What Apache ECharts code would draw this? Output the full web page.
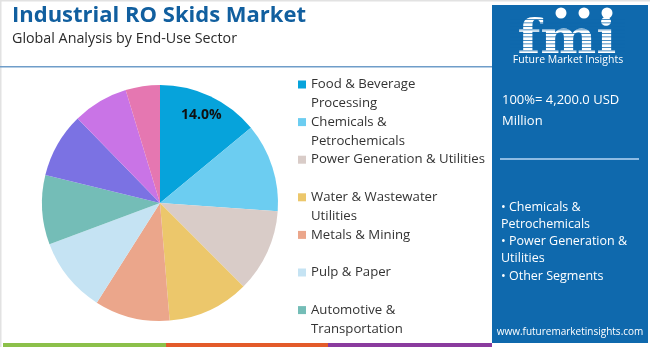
<!DOCTYPE html>
<html>
<head>
<meta charset="utf-8">
<style>
  html, body { margin: 0; padding: 0; background: #ffffff; }
  #chart { width: 650px; height: 347px; }
</style>
<script src="https://cdn.jsdelivr.net/npm/echarts@6/dist/echarts.min.js"></script>
</head>
<body>
<div id="chart"></div>
<script>
// End-use sectors and their share of the market (%)
const sectors = [
  'Food & Beverage Processing',
  'Chemicals & Petrochemicals',
  'Power Generation & Utilities',
  'Water & Wastewater Utilities',
  'Metals & Mining',
  'Pulp & Paper',
  'Automotive & Transportation',
  'Pharmaceuticals',
  'Electronics & Semiconductors',
  'Others'
];
const shares = [14.0, 12.1, 11.4, 11.2, 10.3, 10.3, 9.5, 8.9, 7.6, 4.7];
const sliceColors = ['#06a3db', '#6ccdf1', '#d9ccc8', '#ecc76b', '#eba68b',
                     '#c5e3f3', '#74bdb7', '#7b72e3', '#c974e6', '#e577b1'];

// Legend labels as they are wrapped on screen
const legendLabels = {
  'Food & Beverage Processing': 'Food & Beverage\nProcessing',
  'Chemicals & Petrochemicals': 'Chemicals &\nPetrochemicals',
  'Power Generation & Utilities': 'Power Generation & Utilities\n ',
  'Water & Wastewater Utilities': 'Water & Wastewater\nUtilities',
  'Metals & Mining': 'Metals & Mining\n ',
  'Pulp & Paper': 'Pulp & Paper\n ',
  'Automotive & Transportation': 'Automotive &\nTransportation'
};
const legendCount = 7;

// Side panel texts
const totalText = ['100%= 4,200.0 USD', 'Million'];
const bulletText = ['• Chemicals &', 'Petrochemicals', '• Power Generation &', 'Utilities', '• Other Segments'];

const font = '"Open Sans", "Noto Sans", sans-serif';
const panelBlue = '#0f69ad';
const LH = 18.8;

const pieData = sectors.map((n, i) => ({ name: n, value: shares[i], itemStyle: { color: sliceColors[i] } }));

const chart = echarts.init(document.getElementById('chart'), null, { renderer: 'canvas' });

const graphics = [];
// frame lines
graphics.push({ type: 'rect', shape: { x: 0, y: 0, width: 650, height: 1.5 }, style: { fill: '#e2e2e2' }, silent: true });
graphics.push({ type: 'rect', shape: { x: 0, y: 0, width: 1.5, height: 347 }, style: { fill: '#e2e2e2' }, silent: true });
// header rule
graphics.push({ type: 'rect', shape: { x: 0, y: 66, width: 492, height: 1.5 }, style: { fill: '#6f9dc9' }, silent: true });
// bottom colour strip
graphics.push({ type: 'rect', shape: { x: 3, y: 343, width: 163, height: 4 }, style: { fill: '#8cc04a' }, silent: true });
graphics.push({ type: 'rect', shape: { x: 166, y: 343, width: 162, height: 4 }, style: { fill: '#e35b2a' }, silent: true });
graphics.push({ type: 'rect', shape: { x: 328, y: 343, width: 164, height: 4 }, style: { fill: '#8a3b9e' }, silent: true });
// side panel
graphics.push({ type: 'rect', shape: { x: 492, y: 5, width: 156, height: 338 }, style: { fill: panelBlue }, silent: true });
// logo wordmark with striped letters
graphics.push({ type: 'text', x: 567, y: 64, scaleX: 1.15,
  style: { text: 'fmi', font: 'bold 46px "DejaVu Serif", serif', fill: '#ffffff', align: 'center', verticalAlign: 'bottom' }, silent: true });
for (let k = 0; k < 10; k++) {
  graphics.push({ type: 'rect', shape: { x: 510, y: 19 + k * 3.5, width: 115, height: 0.8 }, style: { fill: panelBlue }, silent: true });
}
[[561, 13], [584, 13], [607, 13]].forEach(p => {
  graphics.push({ type: 'circle', shape: { cx: p[0], cy: p[1], r: 5.5 }, style: { fill: '#ffffff' }, silent: true });
});
graphics.push({ type: 'text', x: 568, y: 60, style: { text: 'Future Market Insights', font: '10.5px ' + font, fill: '#ffffff', align: 'center', verticalAlign: 'middle' }, silent: true });
// total
totalText.forEach((t, i) => {
  graphics.push({ type: 'text', x: 502, y: 100 + i * 21, style: { text: t, font: '13px ' + font, fill: '#ffffff', verticalAlign: 'middle' }, silent: true });
});
graphics.push({ type: 'rect', shape: { x: 500, y: 158, width: 139, height: 2 }, style: { fill: '#8dbbe3' }, silent: true });
bulletText.forEach((t, i) => {
  graphics.push({ type: 'text', x: 501, y: 207 + i * 17.3, style: { text: t, font: '12.5px ' + font, fill: '#ffffff', verticalAlign: 'middle' }, silent: true });
});
graphics.push({ type: 'text', x: 570, y: 332, style: { text: 'www.futuremarketinsights.com', font: '10px ' + font, fill: '#ffffff', align: 'center', verticalAlign: 'middle' }, silent: true });

chart.setOption({
  animation: false,
  title: {
    text: 'Industrial RO Skids Market',
    subtext: 'Global Analysis by End-Use Sector',
    left: 7,
    top: 0,
    itemGap: 5,
    textStyle: { fontFamily: font, fontWeight: 'bold', fontSize: 22, color: '#115f9f' },
    subtextStyle: { fontFamily: font, fontSize: 14.3, color: '#2b2b2b' }
  },
  legend: {
    orient: 'vertical',
    left: 298,
    top: 84.5 - 1.5 * LH,
    padding: 0,
    itemGap: -LH,
    itemWidth: 8,
    itemHeight: 8,
    icon: 'rect',
    data: sectors.slice(0, legendCount),
    // a leading blank line keeps the swatch level with the first text line
    formatter: n => '\u00a0\n' + (legendLabels[n] || n),
    textStyle: { fontFamily: font, fontSize: 13.2, color: '#333333', lineHeight: LH },
    selectedMode: false
  },
  graphic: graphics,
  series: [
    {
      type: 'pie',
      center: [160, 203],
      radius: [0, 118],
      startAngle: 90,
      clockwise: true,
      label: { show: false },
      labelLine: { show: false },
      emphasis: { disabled: true },
      data: pieData
    },
    {
      // transparent ring carrying the value label of the leading slice
      type: 'pie',
      center: [160, 203],
      radius: [70, 118],
      startAngle: 90,
      clockwise: true,
      silent: true,
      itemStyle: { color: 'rgba(0,0,0,0)' },
      label: {
        show: true,
        position: 'inside',
        fontFamily: font,
        fontWeight: 'bold',
        fontSize: 14,
        color: '#111111',
        formatter: p => (p.dataIndex === 0 ? p.percent.toFixed(1) + '%' : '')
      },
      labelLine: { show: false },
      emphasis: { disabled: true },
      data: sectors.map((n, i) => ({ name: n, value: shares[i] }))
    }
  ]
});
</script>
</body>
</html>
